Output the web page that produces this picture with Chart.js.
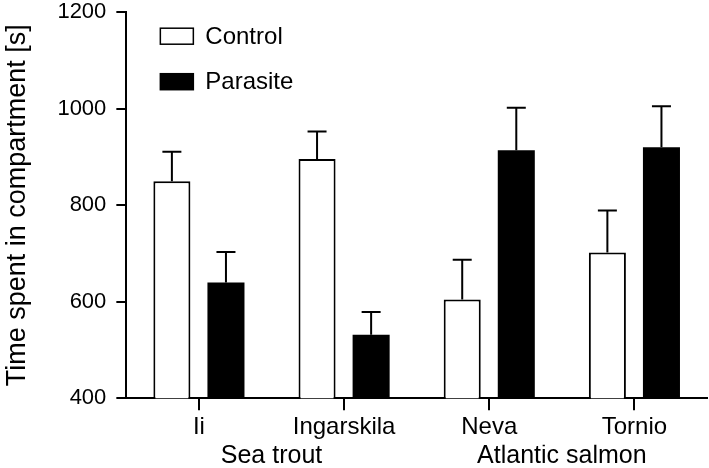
<!DOCTYPE html>
<html>
<head>
<meta charset="utf-8">
<script src="https://cdn.jsdelivr.net/npm/chart.js@4.4.1/dist/chart.umd.min.js"></script>
<style>
  html, body { margin: 0; padding: 0; background: #fff; }
  #wrap { width: 709px; height: 468px; position: relative; }
</style>
</head>
<body>
<div id="wrap"><canvas id="c" width="709" height="468"></canvas></div>
<script>
// ---- data ----
const categories = ['Ii', 'Ingarskila', 'Neva', 'Tornio'];
const groups = ['Sea trout', 'Atlantic salmon'];
const controlValues = [850, 896, 605, 702];
const controlErrors = [61, 57, 82, 87];
const parasiteValues = [640, 532, 914, 920];
const parasiteErrors = [63, 47, 88, 85];
const yTicks = [400, 600, 800, 1000, 1200];
const yTitle = 'Time spent in compartment [s]';

const FONT = "'Liberation Sans', Arial, Helvetica, sans-serif";

const errorBars = {
  id: 'errorBars',
  afterDatasetsDraw(chart) {
    const ctx = chart.ctx;
    const y = chart.scales.y;
    ctx.save();
    ctx.strokeStyle = '#000';
    ctx.lineWidth = 2;
    chart.data.datasets.forEach((ds, i) => {
      const meta = chart.getDatasetMeta(i);
      meta.data.forEach((bar, j) => {
        const v = ds.data[j];
        const e = ds.errors[j];
        const x = bar.x;
        const yTop = y.getPixelForValue(v + e);
        const yBar = y.getPixelForValue(v);
        ctx.beginPath();
        ctx.moveTo(x, yBar);
        ctx.lineTo(x, yTop);
        ctx.moveTo(x - 9.5, yTop);
        ctx.lineTo(x + 9.5, yTop);
        ctx.stroke();
      });
    });
    ctx.restore();
  }
};

const customLegend = {
  id: 'customLegend',
  afterDraw(chart) {
    const ctx = chart.ctx;
    const a = chart.chartArea;
    ctx.save();
    ctx.font = '24px ' + FONT;
    ctx.textBaseline = 'middle';
    ctx.fillStyle = '#000';
    chart.data.datasets.forEach((ds, i) => {
      const bx = a.left + 34;
      const by = a.top + 16 + i * 45.5;
      ctx.fillStyle = ds.backgroundColor;
      ctx.fillRect(bx, by, 33, 16);
      ctx.strokeStyle = '#000';
      ctx.lineWidth = 1.5;
      ctx.strokeRect(bx, by, 33, 16);
      ctx.fillStyle = '#000';
      ctx.fillText(ds.label, bx + 45, by + 9);
    });
    ctx.restore();
  }
};

new Chart(document.getElementById('c'), {
  type: 'bar',
  data: {
    labels: categories,
    datasets: [
      {
        label: 'Control',
        data: controlValues,
        errors: controlErrors,
        backgroundColor: '#ffffff',
        borderColor: '#000000',
        borderWidth: 2,
        borderSkipped: false,
        categoryPercentage: 0.745,
        barPercentage: 0.685
      },
      {
        label: 'Parasite',
        data: parasiteValues,
        errors: parasiteErrors,
        backgroundColor: '#000000',
        borderColor: '#000000',
        borderWidth: 0,
        categoryPercentage: 0.745,
        barPercentage: 0.685
      }
    ]
  },
  options: {
    responsive: false,
    animation: false,
    events: [],
    layout: { padding: { left: 1, right: 2, top: 0, bottom: 0 } },
    plugins: {
      legend: { display: false },
      tooltip: { enabled: false }
    },
    scales: {
      x: {
        type: 'category',
        offset: true,
        grid: {
          display: true,
          offset: false,
          drawOnChartArea: false,
          drawTicks: true,
          tickLength: 12,
          color: '#000',
          lineWidth: 2
        },
        border: { display: true, color: '#000', width: 2 },
        ticks: {
          color: '#000',
          font: { family: FONT, size: 24, lineHeight: 1.1 },
          padding: 4,
          maxRotation: 0,
          autoSkip: false
        }
      },
      x2: {
        type: 'category',
        position: 'bottom',
        labels: groups,
        offset: true,
        grid: { display: false, drawTicks: false },
        border: { display: false },
        ticks: {
          color: '#000',
          font: { family: FONT, size: 25, lineHeight: 0.85 },
          padding: 1,
          maxRotation: 0,
          autoSkip: false
        }
      },
      y: {
        min: 400,
        max: 1200,
        afterBuildTicks(axis) {
          axis.ticks = yTicks.map(v => ({ value: v }));
        },
        grid: {
          display: true,
          drawOnChartArea: false,
          drawTicks: true,
          tickLength: 10,
          color: '#000',
          lineWidth: 2
        },
        border: { display: true, color: '#000', width: 2 },
        ticks: {
          color: '#000',
          font: { family: FONT, size: 22, lineHeight: 0.2 },
          padding: 10,
          callback: (v) => String(v)
        },
        title: {
          display: true,
          text: yTitle,
          color: '#000',
          font: { family: FONT, size: 27 },
          padding: { top: 0, bottom: 14 }
        }
      }
    }
  },
  plugins: [errorBars, customLegend]
});
</script>
</body>
</html>
